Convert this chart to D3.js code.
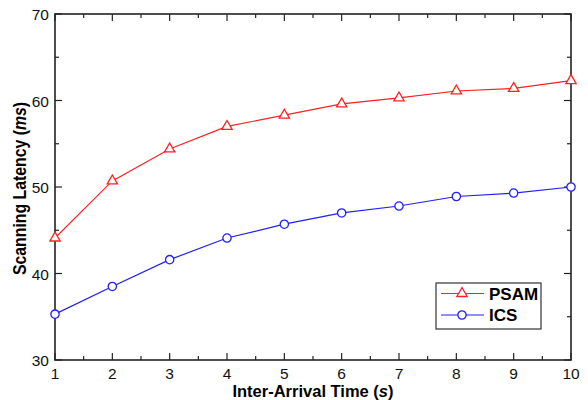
<!DOCTYPE html>
<html>
<head>
  <meta charset="utf-8">
  <title>Scanning Latency</title>
  <style>
    body { margin: 0; background: #fff; }
    text { font-family: "Liberation Sans", Arial, sans-serif; }
  </style>
</head>
<body>
  <svg width="588" height="400"></svg>
  <script src="https://d3js.org/d3.v7.min.js"></script>
  <script>
    // data
    const arrivalTimes = [1, 2, 3, 4, 5, 6, 7, 8, 9, 10];
    const psam = [44.1, 50.7, 54.4, 57.0, 58.3, 59.6, 60.3, 61.1, 61.4, 62.3];
    const ics = [35.3, 38.5, 41.6, 44.1, 45.7, 47.0, 47.8, 48.9, 49.3, 50.0];
    const yTicks = [30, 40, 50, 60, 70];

    const svg = d3.select("svg");
    const plotL = 55, plotR = 571, plotT = 14, plotB = 360;

    const x = d3.scaleLinear().domain([1, 10]).range([plotL, plotR]);
    const y = d3.scaleLinear().domain([30, 70]).range([plotB, plotT]);

    const axisColor = "#222";

    // ticks (inward, on all four sides)
    const g = svg.append("g");
    const xMinor = d3.range(1.5, 10, 1);
    const yMinor = d3.range(35, 70, 10);

    function ticks(vals, scale, len, horiz) {
      vals.forEach(v => {
        const p = scale(v);
        if (horiz) {
          g.append("line").attr("x1", p).attr("x2", p).attr("y1", plotB).attr("y2", plotB - len);
          g.append("line").attr("x1", p).attr("x2", p).attr("y1", plotT).attr("y2", plotT + len);
        } else {
          g.append("line").attr("y1", p).attr("y2", p).attr("x1", plotL).attr("x2", plotL + len);
          g.append("line").attr("y1", p).attr("y2", p).attr("x1", plotR).attr("x2", plotR - len);
        }
      });
    }
    ticks(arrivalTimes, x, 7, true);
    ticks(xMinor, x, 4, true);
    ticks(yTicks, y, 7, false);
    ticks(yMinor, y, 4, false);
    g.selectAll("line").attr("stroke", axisColor).attr("stroke-width", 1.2);

    svg.append("rect")
      .attr("x", plotL).attr("y", plotT)
      .attr("width", plotR - plotL).attr("height", plotB - plotT)
      .attr("fill", "none").attr("stroke", axisColor).attr("stroke-width", 1.6);

    // tick labels
    svg.append("g").selectAll("text").data(arrivalTimes).join("text")
      .attr("x", d => x(d)).attr("y", plotB + 18.5)
      .attr("text-anchor", "middle").attr("font-size", 15.5).attr("fill", "#111")
      .text(d => d);
    svg.append("g").selectAll("text").data(yTicks).join("text")
      .attr("x", plotL - 6).attr("y", d => y(d) + 6)
      .attr("text-anchor", "end").attr("font-size", 15.5).attr("fill", "#111")
      .text(d => d);

    // axis titles
    const xt = svg.append("text")
      .attr("x", (plotL + plotR) / 2).attr("y", 397)
      .attr("text-anchor", "middle").attr("font-size", 16.5).attr("font-weight", "bold");
    xt.append("tspan").text("Inter-Arrival Time (");
    xt.append("tspan").attr("font-style", "italic").text("s");
    xt.append("tspan").text(")");

    const yt = svg.append("text")
      .attr("transform", `translate(26,188.5) rotate(-90) scale(0.88,1)`)
      .attr("text-anchor", "middle").attr("font-size", 18).attr("font-weight", "bold");
    yt.append("tspan").text("Scanning Latency (");
    yt.append("tspan").attr("font-style", "italic").text("ms");
    yt.append("tspan").text(")");

    // series
    const line = d3.line().x((d, i) => x(arrivalTimes[i])).y(d => y(d));
    const series = [
      { name: "PSAM", values: psam, color: "#ff2020", shape: d3.symbolTriangle, size: 46 },
      { name: "ICS", values: ics, color: "#2020ff", shape: d3.symbolCircle, size: 54 }
    ];

    const plot = svg.append("g");
    series.forEach(s => {
      plot.append("path").datum(s.values)
        .attr("d", line).attr("fill", "none")
        .attr("stroke", s.color).attr("stroke-width", 1.2);
      plot.append("g").selectAll("path").data(s.values).join("path")
        .attr("transform", (d, i) => `translate(${x(arrivalTimes[i])},${y(d)})`)
        .attr("d", d3.symbol().type(s.shape).size(s.size))
        .attr("fill", "#fff").attr("stroke", s.color).attr("stroke-width", 1.3);
    });

    // legend
    const lg = svg.append("g");
    lg.append("rect").attr("x", 436).attr("y", 283).attr("width", 105).attr("height", 46)
      .attr("fill", "#fff").attr("stroke", "#333").attr("stroke-width", 1.2);
    series.forEach((s, i) => {
      const cy = 293.5 + i * 21.5;
      lg.append("line").attr("x1", 441).attr("x2", 484).attr("y1", cy).attr("y2", cy)
        .attr("stroke", s.color).attr("stroke-width", 1.2);
      lg.append("path").attr("transform", `translate(462,${cy})`)
        .attr("d", d3.symbol().type(s.shape).size(s.size))
        .attr("fill", "#fff").attr("stroke", s.color).attr("stroke-width", 1.3);
      lg.append("text").attr("x", 489).attr("y", cy + 6)
        .attr("font-size", 17).attr("font-weight", "bold").text(s.name);
    });
  </script>
</body>
</html>
